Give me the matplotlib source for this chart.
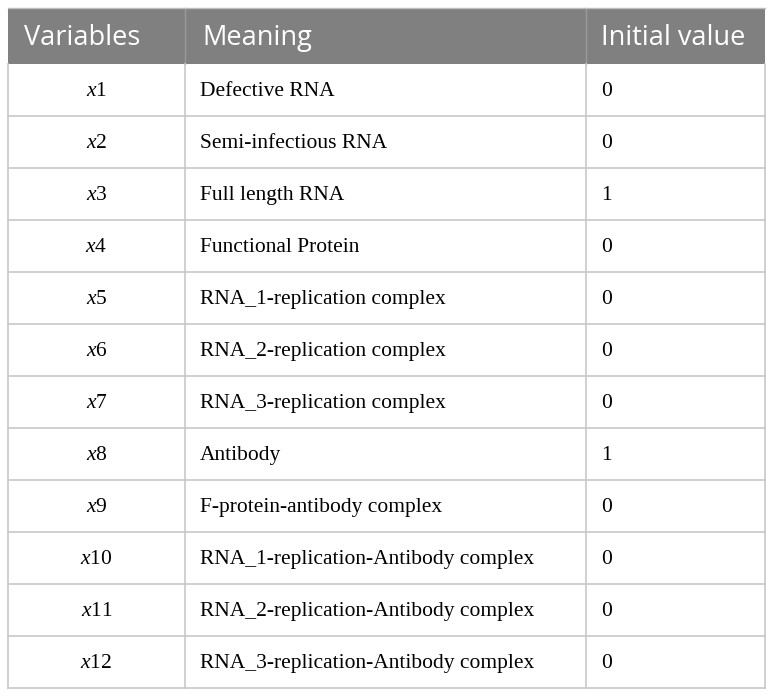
import matplotlib
matplotlib.use("Agg")
import matplotlib.pyplot as plt
from matplotlib.patches import Rectangle

# datos de la tabla
encabezados = ["Variables", "Meaning", "Initial value"]
variables = ["1", "2", "3", "4", "5", "6", "7", "8", "9", "10", "11", "12"]
significados = [
    "Defective RNA",
    "Semi-infectious RNA",
    "Full length RNA",
    "Functional Protein",
    "RNA_1-replication complex",
    "RNA_2-replication complex",
    "RNA_3-replication complex",
    "Antibody",
    "F-protein-antibody complex",
    "RNA_1-replication-Antibody complex",
    "RNA_2-replication-Antibody complex",
    "RNA_3-replication-Antibody complex",
]
valores_iniciales = ["0", "0", "1", "0", "0", "0", "0", "1", "0", "0", "0", "0"]

plt.rcParams["mathtext.fontset"] = "custom"
plt.rcParams["mathtext.rm"] = "Liberation Serif"
plt.rcParams["mathtext.it"] = "Liberation Serif:italic"

W, H = 772, 697
fig = plt.figure(figsize=(W / 100, H / 100), dpi=100)
ax = fig.add_axes([0, 0, 1, 1])
ax.set_xlim(0, W)
ax.set_ylim(H, 0)
ax.axis("off")

izq, der = 8, 765
arriba, fin_enc = 8, 64
alto_fila = 52
cols = [izq, 185, 586, der]
gris_linea = "#c8c8c8"

# encabezado
ax.add_patch(Rectangle((izq, arriba), der - izq, fin_enc - arriba,
                       facecolor="#808080", edgecolor="none"))
ax.plot([cols[1], cols[1]], [arriba, fin_enc], color="#9a9a9a", lw=1)
ax.plot([cols[2], cols[2]], [arriba, fin_enc], color="#9a9a9a", lw=1)
ax.plot([izq, der], [arriba, arriba], color="#bdbdbd", lw=1)
pos_enc = [24, 202, 601]
for texto, x in zip(encabezados, pos_enc):
    ax.text(x, (arriba + fin_enc) / 2 + 2, texto, color="white",
            fontsize=19.5, family="Open Sans", ha="left", va="center")

n = len(variables)
fondo = fin_enc + n * alto_fila

# lineas de la cuadricula
for i in range(1, n + 1):
    y = fin_enc + i * alto_fila
    ax.plot([izq, der], [y, y], color=gris_linea, lw=1.2)
for x in cols:
    ax.plot([x, x], [fin_enc, fondo], color=gris_linea, lw=1.2)

for i in range(n):
    yc = fin_enc + (i + 0.5) * alto_fila + 1.5
    ax.text((cols[0] + cols[1]) / 2, yc, r"$x$" + variables[i],
            fontsize=15.5, family="Liberation Serif", ha="center", va="center")
    ax.text(200, yc, significados[i], fontsize=15.5,
            family="Liberation Serif", ha="left", va="center")
    ax.text(601, yc, valores_iniciales[i], fontsize=15.5,
            family="Liberation Serif", ha="left", va="center")

fig.savefig("out.png", dpi=100)
